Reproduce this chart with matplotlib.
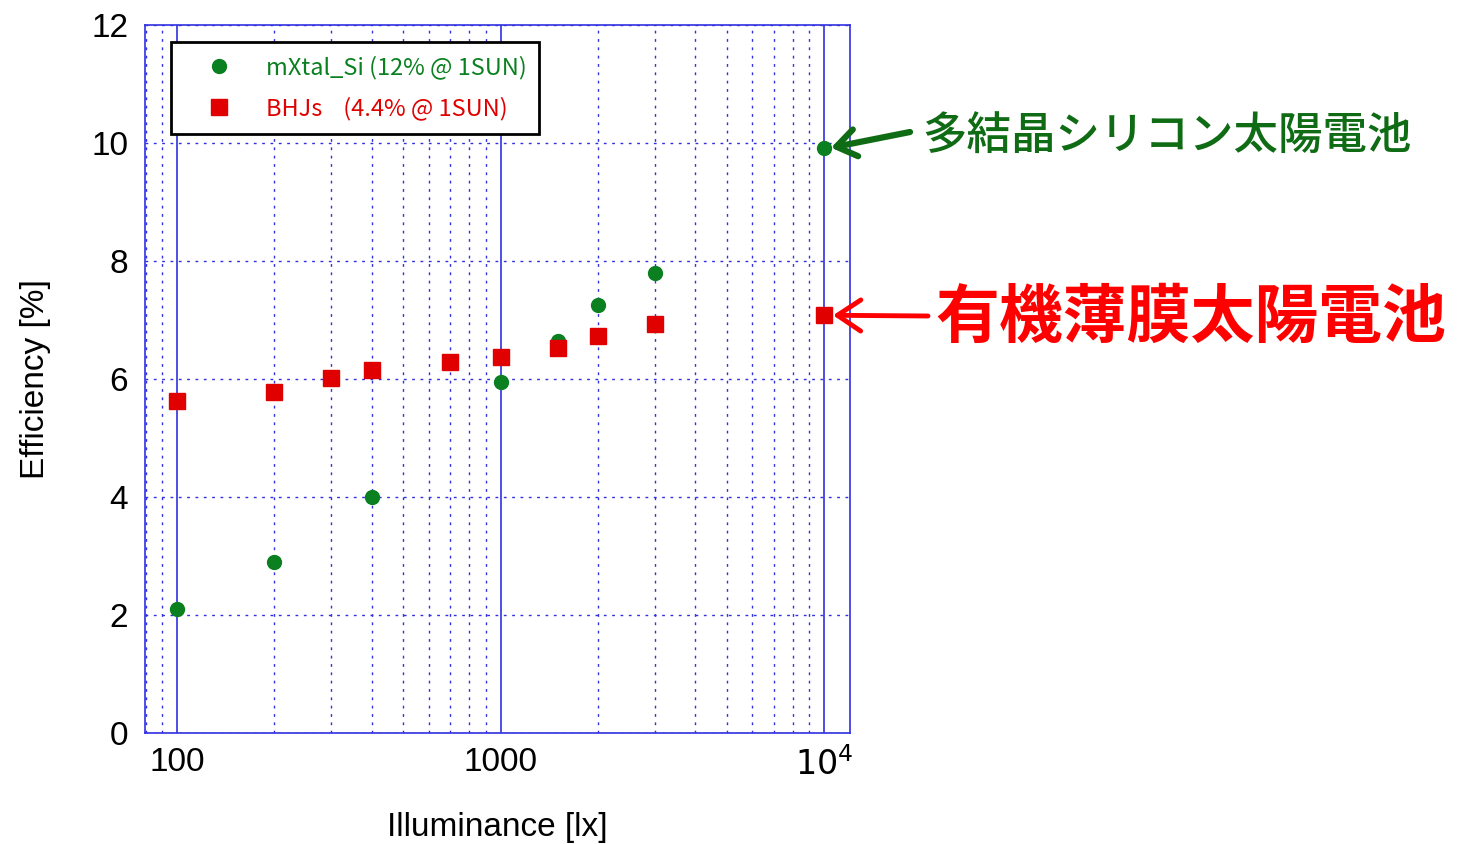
import matplotlib
matplotlib.use('Agg')
import matplotlib.pyplot as plt
from matplotlib.ticker import FixedLocator, LogLocator, NullFormatter

# Efficiency vs illuminance for two cell types
si_lux = [100, 200, 400, 1000, 1500, 2000, 3000, 10000]
si_eff = [2.10, 2.90, 4.00, 5.95, 6.64, 7.25, 7.80, 9.92]

bhj_lux = [100, 200, 300, 400, 700, 1000, 1500, 2000, 3000, 10000]
bhj_eff = [5.63, 5.78, 6.02, 6.15, 6.29, 6.37, 6.53, 6.73, 6.93, 7.08]

si_label = 'mXtal_Si (12% @ 1SUN)'
bhj_label = 'BHJs    (4.4% @ 1SUN)'
si_note = '多結晶シリコン太陽電池'
bhj_note = '有機薄膜太陽電池'

GREEN = '#0a8020'
DARK_GREEN = '#0f6b14'
RED = '#e00000'
BLUE = '#3030e0'
CJK = ['Noto Sans CJK JP', 'DejaVu Sans']

plt.rcParams['font.family'] = ['Liberation Sans', 'DejaVu Sans']


def main():
    fig = plt.figure(figsize=(14.63, 8.44), dpi=100)
    ax = fig.add_axes([0.0991, 0.1315, 0.4820, 0.8389])

    ax.plot(si_lux, si_eff, 'o', color=GREEN, ms=10, label=si_label)
    ax.plot(bhj_lux, bhj_eff, 's', color=RED, ms=12, label=bhj_label)

    ax.set_xscale('log')
    ax.set_xlim(79.6, 12030)
    ax.set_ylim(0, 12)

    style_axes(ax)
    add_legend(ax)
    add_notes(ax)

    fig.savefig('out.png', dpi=100)


def style_axes(ax):
    """Blue frame with dotted minor grid and solid decade lines."""
    for sp in ax.spines.values():
        sp.set_color(BLUE)
        sp.set_linewidth(1.2)

    ax.xaxis.set_major_locator(FixedLocator([100, 1000, 10000]))
    ax.xaxis.set_minor_locator(LogLocator(base=10, subs=range(2, 10)))
    ax.xaxis.set_minor_formatter(NullFormatter())
    ax.set_xticklabels(['100', '1000', r'$10^4$'])
    ax.set_yticks([0, 2, 4, 6, 8, 10, 12])

    ax.tick_params(which='both', length=0, labelsize=24)
    ax.tick_params(axis='x', pad=10)
    ax.tick_params(axis='y', pad=12)

    ax.grid(which='major', axis='x', color=BLUE, lw=1.2, ls='-')
    ax.grid(which='minor', axis='x', color=BLUE, lw=1.0, ls=(0, (2, 4)))
    ax.grid(which='major', axis='y', color=BLUE, lw=1.0, ls=(0, (2, 4)))
    ax.set_axisbelow(True)

    ax.set_xlabel('Illuminance [lx]', fontsize=24, labelpad=22)
    ax.set_ylabel('Efficiency [%]', fontsize=24, labelpad=29)


def add_legend(ax):
    leg = ax.legend(loc='upper left', bbox_to_anchor=(0.037, 0.976),
                    prop={'family': CJK, 'size': 17}, fancybox=False,
                    framealpha=1, edgecolor='black', borderpad=0.55,
                    handletextpad=0.45, labelspacing=0.76,
                    borderaxespad=0, handlelength=3.0)
    leg.get_frame().set_linewidth(2)
    for text, col in zip(leg.get_texts(), [GREEN, RED]):
        text.set_color(col)


def add_notes(ax):
    fig = ax.figure
    # Silicon cell label with a heavy arrow to the 10^4 lx point
    fig.text(922, 707, si_note, fontsize=32, color=DARK_GREEN,
             fontweight='medium', family=CJK, va='center', ha='left',
             transform=None)
    ax.annotate('', xy=(si_lux[-1] * 1.05, si_eff[-1]),
                xytext=(910, 712), textcoords='figure pixels',
                annotation_clip=False,
                arrowprops=dict(arrowstyle='->,head_length=0.5,head_width=0.35',
                                color=DARK_GREEN, lw=4.5,
                                mutation_scale=28, shrinkA=0, shrinkB=0))

    # Organic cell label, bold red with a thinner arrow
    fig.text(935, 526, bhj_note, fontsize=46, color='#ff0000',
             fontweight='bold', family=CJK, va='center', ha='left',
             transform=None)
    ax.annotate('', xy=(bhj_lux[-1] * 1.065, bhj_eff[-1]),
                xytext=(928, 528), textcoords='figure pixels',
                annotation_clip=False,
                arrowprops=dict(arrowstyle='->,head_length=0.6,head_width=0.4',
                                color='#ff0000', lw=3.5,
                                mutation_scale=28, shrinkA=0, shrinkB=0))


if __name__ == '__main__':
    main()
